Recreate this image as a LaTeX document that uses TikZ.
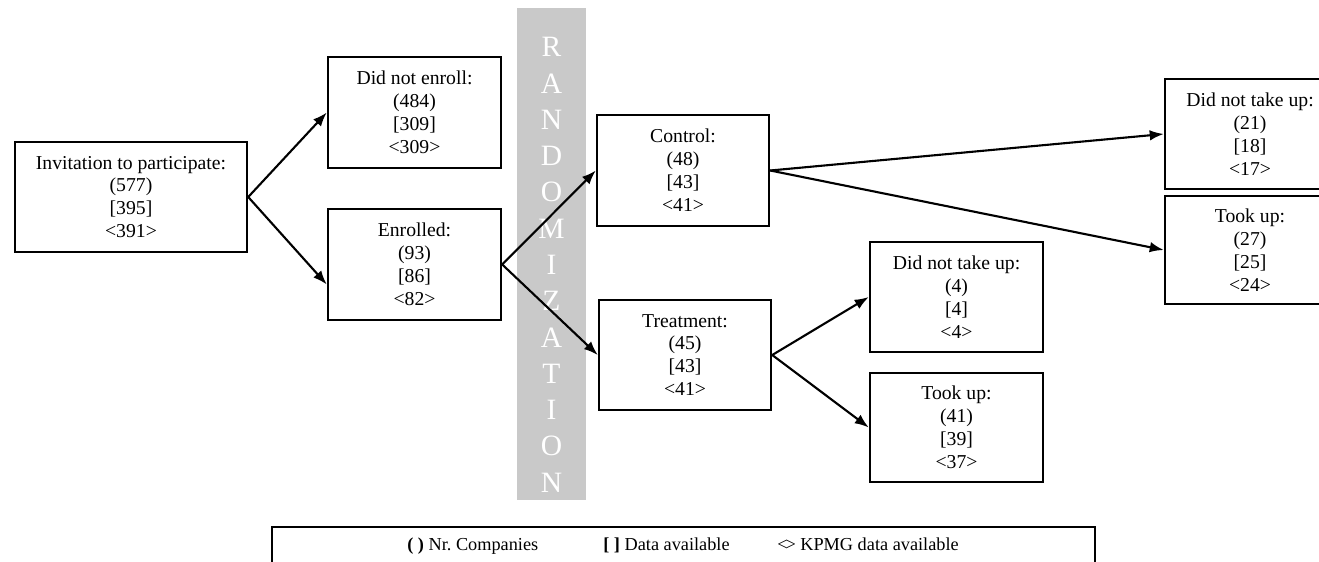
\documentclass[tikz,border=0pt]{standalone}
\usepackage{fontspec}
\setmainfont{Liberation Serif}
\usetikzlibrary{arrows.meta}
\definecolor{bandgray}{RGB}{201,201,201}
\begin{document}
\begin{tikzpicture}[x=0.025cm,y=-0.025cm,
  box/.style={draw,line width=1.7pt,minimum width=4.325cm,minimum height=2.775cm,inner sep=0pt,align=center,font=\fontsize{14}{16.3}\selectfont},
  arr/.style={line width=1.5pt,-{Latex[length=10pt,width=7.5pt]}},
  legtext/.style={anchor=base west,inner sep=0pt,font=\fontsize{13}{15}\selectfont}]
\useasboundingbox (0,0) rectangle (1319,561);

\fill[bandgray] (517,8) rectangle (586,500);
\foreach \letter [count=\i from 0] in {R,A,N,D,O,M,I,Z,A,T,I,O,N}
  \node[text=white,font=\fontsize{21}{21}\selectfont] (r\i) at (551.5,47+36.3*\i) {\letter};

\node[box,minimum width=5.8cm,minimum height=2.75cm] (inv) at (131,197) {Invitation to participate:\\(577)\\{[395]}\\<391>};
\node[box] (noenr) at (414.5,112.5) {Did not enroll:\\(484)\\{[309]}\\<309>};
\node[box] (enr) at (414.5,264.5) {Enrolled:\\(93)\\{[86]}\\<82>};
\node[box,minimum width=4.3cm] (ctrl) at (683,170.5) {Control:\\(48)\\{[43]}\\<41>};
\node[box,minimum width=4.3cm,minimum height=2.75cm] (treat) at (685,355) {Treatment:\\(45)\\{[43]}\\<41>};
\node[box,minimum height=2.75cm] (tnot) at (956.5,297) {Did not take up:\\(4)\\{[4]}\\<4>};
\node[box,minimum height=2.725cm] (ttook) at (956.5,427.5) {Took up:\\(41)\\{[39]}\\<37>};
\node[box,minimum width=4.25cm,minimum height=2.75cm] (cnot) at (1250,134) {Did not take up:\\(21)\\{[18]}\\<17>};
\node[box,minimum width=4.25cm,minimum height=2.7cm] (ctook) at (1250,250) {Took up:\\(27)\\{[25]}\\<24>};

\draw[arr] (inv.east)--(noenr.west);
\draw[arr] (inv.east)--([yshift=-0.5cm]enr.west);
\draw[arr] (enr.east)--(ctrl.west);
\draw[arr] (enr.east)--(treat.west);
\draw[arr] (treat.east)--(tnot.west);
\draw[arr] (treat.east)--(ttook.west);
\draw[arr] (ctrl.east)--(cnot.west);
\draw[arr] (ctrl.east)--(ctook.west);

\draw[line width=1.7pt] (272,527) rectangle (1095,575);
\node[legtext] (lnr) at (407,550) {\textbf{( )} Nr.\ Companies};
\node[legtext] (ldata) at (603,550) {\textbf{[ ]} Data available};
\node[legtext] (lkpmg) at (777,550) {<\kern-1.5pt> KPMG data available};
\end{tikzpicture}
\end{document}
